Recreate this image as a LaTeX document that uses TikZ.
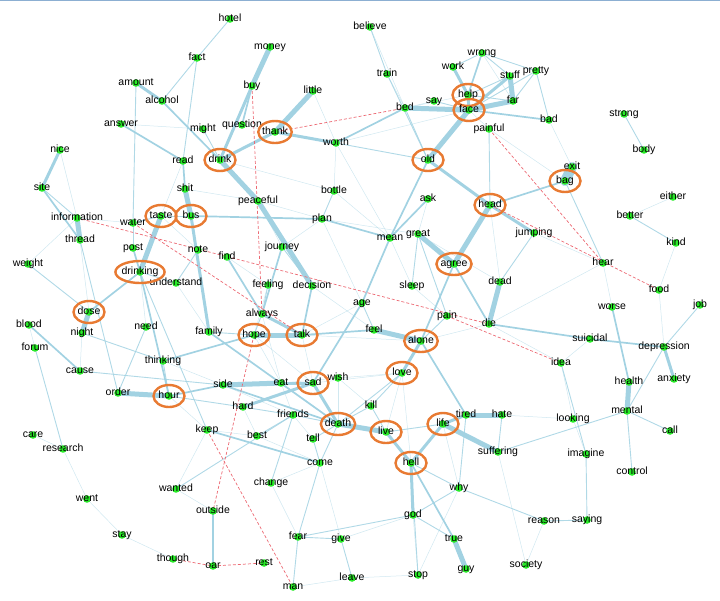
\documentclass[tikz,border=0pt]{standalone}
\usepackage{fontspec}
\setmainfont{Liberation Sans}
\usetikzlibrary{shapes.geometric,backgrounds}

\definecolor{edgeblue}{RGB}{162,210,226}
\definecolor{dotgreen}{RGB}{40,235,40}
\definecolor{huborange}{RGB}{232,122,50}
\definecolor{dashred}{RGB}{236,105,115}
\definecolor{frameblue}{RGB}{140,175,210}

\tikzset{
  word/.style={font=\fontsize{10.5}{12}\selectfont, inner sep=0pt, text height=7.5pt, text depth=2pt},
  hub/.style={word, ellipse, draw=huborange, line width=2.4pt, inner xsep=-1pt, minimum width=31pt, minimum height=22pt},
  dot/.style={fill=dotgreen},
  faintedge/.style={draw=edgeblue, line width=0.5pt, opacity=0.5},
  thinedge/.style={draw=edgeblue, line width=0.9pt, opacity=0.85},
  midedge/.style={draw=edgeblue, line width=1.7pt},
  thickedge/.style={draw=edgeblue, line width=3pt},
  heavyedge/.style={draw=edgeblue, line width=5pt},
  negedge/.style={draw=dashred, line width=0.7pt, dash pattern=on 3pt off 2pt},
}

\begin{document}
\begin{tikzpicture}[x=1pt, y=-1pt]

    % --- Canvas ---
    \useasboundingbox (0,0) rectangle (720,600);
    \draw[frameblue, line width=1pt] (0,0.5) -- (720,0.5);

    % --- Plain words ---
    \foreach \n/\x/\y in {hotel/230/19, fact/197/58, money/270/47, amount/136/83, buy/252/86,
        little/313/91, alcohol/162/101, answer/121/124, might/203/129, question/242/125,
        worth/336/143, nice/60/150, read/183/161, site/42/188, shit/185/189, bottle/334/191,
        peaceful/258/201, information/77/218, plan/322/219, water/133/223, thread/80/240,
        post/133/248, journey/282/247, note/198/250, find/227/257, weight/28/264,
        understand/176/283, feeling/268/285, decision/312/286, believe/370/27, wrong/482/53,
        work/453/67, train/387/74, stuff/510/76, pretty/536/71, say/434/101, far/513/101,
        bed/405/108, bad/549/120, strong/624/114, painful/489/129, body/644/150, exit/572/167,
        either/673/197, ask/428/199, better/630/216, jumping/534/233, mean/390/238,
        great/418/234, kind/676/243, hear/603/263, sleep/412/286, dead/500/282, food/659/290,
        always/262/314, blood/29/325, need/146/327, night/82/333, family/209/332, forum/35/348,
        thinking/163/361, cause/80/371, side/223/385, eat/281/383, wish/338/378, order/118/393,
        hard/243/407, friends/293/415, care/33/435, keep/207/430, best/257/436, tell/313/439,
        research/63/449, come/320/463, change/271/483, wanted/176/489, went/87/499,
        outside/213/511, stay/122/535, fear/298/537, give/341/539, though/173/559, oar/213/566,
        rest/264/563, leave/352/578, man/293/587, worse/612/307, job/700/305, die/489/324,
        pain/447/316, feel/374/330, suicidal/590/339, depression/664/347, idea/561/363,
        health/629/382, anxiety/674/379, kill/371/406, mental/627/411, tired/466/415,
        hate/502/415, looking/573/419, call/670/431, suffering/498/452, imagine/586/454,
        control/632/472, why/459/488, god/413/515, reason/544/521, saying/587/520,
        true/454/539, society/526/565, guy/466/569, stop/418/575, age/362/303}
    {
        \fill[dot] (\x,\y) circle (3.8pt);
        \node[word] (\n) at (\x,\y) {\n};
    }

    % --- Circled words ---
    \foreach \n/\x/\y in {thank/275/132, drink/220/160, taste/161/216, bus/191/216,
        drinking/140/272, help/468/95, face/469/110, old/428/160, bag/565/181, head/490/205,
        agree/454/264, dose/89/312, hope/254/335, talk/302/335, sad/313/383, hour/169/396,
        death/338/424, alone/421/341, love/402/373, life/443/424, live/386/432, hell/411/463}
    {
        \fill[dot] (\x,\y) circle (3.8pt);
        \node[hub] (\n) at (\x,\y) {\n};
    }

    % --- Links, drawn behind the words ---
    \begin{scope}[on background layer]
        % weak links
        \foreach \a/\b in {worth/face, bottle/mean, plan/great, peaceful/plan, peaceful/journey,
            drink/bottle, read/taste, shit/peaceful, find/feeling, taste/note, water/information,
            thread/dose, weight/information, understand/family, need/drinking, thinking/side,
            keep/best, best/come, change/come, wanted/keep, went/research, stay/though,
            care/research, hope/eat, eat/wish, wish/love, wish/kill, age/talk, sleep/pain,
            ask/great, mean/sleep, great/dead, head/dead, jumping/hear, bad/exit, painful/bag,
            either/better, kind/food, food/depression, hear/worse, idea/looking, looking/imagine,
            suicidal/idea, die/idea, hate/looking, life/why, why/stop, god/stop, give/god,
            leave/stop, society/suffering, society/reason, man/leave, went/stay, worth/bottle,
            little/worth, question/thank, answer/might, nice/information, forum/blood,
            night/cause, hour/keep, best/hard, side/friends, wish/death, sad/love, love/live,
            love/hell, alone/die, die/hear, face/painful, help/bed, say/bed, train/bed,
            believe/bed, wrong/far, worth/mean, plan/age, journey/plan, decision/feel,
            feeling/hope, always/eat, talk/sad, talk/alone, hope/sad, eat/friends, tell/friends,
            come/give, change/fear, outside/wanted}
            \draw[faintedge] (\a.center) -- (\b.center);
        % thin links
        \foreach \a/\b in {hotel/fact, fact/alcohol, fact/read, amount/water, site/information,
            thread/order, weight/dose, forum/research, night/thinking, cause/side, order/need,
            drinking/keep, thinking/hour, wanted/friends, change/friends, fear/man, fear/god,
            fear/give, give/leave, fear/come, god/why, why/reason, reason/saying, imagine/saying,
            idea/imagine, suffering/mental, mental/call, mental/control, depression/mental,
            job/depression, hate/suffering, hell/why, kill/live, kill/love, love/death, live/life,
            come/death, come/tell, tell/death, best/friends, hard/hour, stop/hell, believe/train,
            train/old, wrong/work, wrong/stuff, wrong/pretty, help/stuff, help/far, pretty/far,
            pretty/bad, pretty/face, say/face, bed/old, painful/head, worth/old, bag/hear,
            strong/body, better/kind, jumping/dead, great/sleep, great/pain, pain/alone,
            age/feel, might/drink, bottle/plan, journey/decision, feeling/always,
            note/understand, water/taste, bus/taste, post/water, drinking/understand,
            hope/always, hope/family, friends/death, kill/death, eat/death, hard/friends,
            tired/why, god/true}
            \draw[thinedge] (\a.center) -- (\b.center);
        % medium links
        \foreach \a/\b in {alcohol/drink, answer/read, site/thread, read/shit, post/drinking,
            drinking/dose, drinking/hour, plan/mean, bus/plan, talk/feel, age/mean, age/sad,
            ask/mean, agree/die, agree/alone, alone/tired, thinking/hope, side/death, hour/side,
            keep/come, outside/oar, find/always, blood/cause, old/mean, bed/worth, wrong/help,
            face/bad, head/bag, decision/talk, journey/always, die/suicidal,
            suicidal/depression, worse/health, hell/true, family/death, buy/question}
            \draw[midedge] (\a.center) -- (\b.center);
        % strong links
        \foreach \a/\b in {amount/alcohol, thank/worth, thank/drink, buy/drink, nice/site,
            bus/family, always/talk, alone/love, hard/sad, eat/sad, sad/death, live/hell,
            life/hell, hell/god, depression/anxiety, work/help, old/head, head/jumping,
            face/stuff, help/face, life/tired}
            \draw[thickedge] (\a.center) -- (\b.center);
        % strongest links
        \foreach \a/\b in {money/buy, little/thank, drink/peaceful, peaceful/decision,
            information/thread, shit/bus, taste/drinking, hope/talk, feel/alone, great/agree,
            agree/head, dead/die, order/hour, side/eat, death/live, tired/hate, life/suffering,
            true/guy, health/mental, face/old, face/bed, face/far, stuff/far, dose/night}
            \draw[heavyedge] (\a.center) -- (\b.center);
        \draw[edgeblue, line width=10pt, line cap=round] (exit.center) -- (bag.center);
        % negative links
        \foreach \a/\b in {though/oar, oar/rest, hope/outside, buy/always, keep/man, thank/bed,
            information/die, water/talk, painful/hear, head/food, pain/idea}
            \draw[negedge] (\a.center) -- (\b.center);
    \end{scope}

\end{tikzpicture}
\end{document}
